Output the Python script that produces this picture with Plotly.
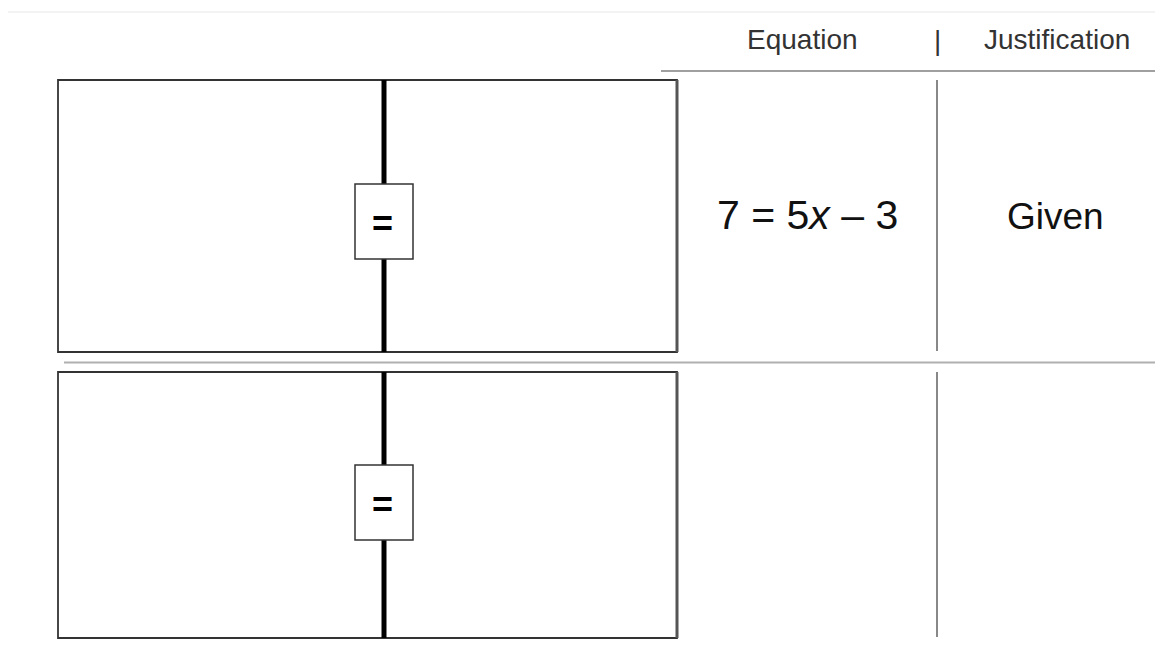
import plotly.graph_objects as go

# ------------------------------------------------------------------ #
# Content of the worksheet
# ------------------------------------------------------------------ #
headers = ['Equation', 'Justification']
equations = ['7 = 5<i>x</i> – 3', '']
justifications = ['Given', '']

W, H = 1163, 645
PAD = 8          # the page body adds an 8px margin, so axis units = page pixels
FONT = 'Liberation Sans, Arial, sans-serif'

# row extents (page pixels, y grows downward)
row_top = [80, 372]
row_bot = [352, 638]
tag_top = [184, 465]
box_left, box_right = 58, 677
mid_x = 384
eq_x, just_x, sep_x = 807, 1056, 937

fig = go.Figure()
# invisible trace so the axes exist
fig.add_trace(go.Scatter(x=[PAD, W], y=[PAD, H], mode='markers',
                         marker=dict(opacity=0), hoverinfo='skip', showlegend=False))

shapes = []
annotations = []

# faint rule at the very top
shapes.append(dict(type='line', x0=8, x1=W, y0=12, y1=12,
                   line=dict(color='#f3f3f3', width=2)))

# header
annotations.append(dict(x=802, y=39, text=headers[0], showarrow=False,
                        font=dict(family=FONT, size=28, color='#333333')))
annotations.append(dict(x=sep_x, y=40, text='|', showarrow=False,
                        font=dict(family=FONT, size=28, color='#333333')))
annotations.append(dict(x=1057, y=39, text=headers[1], showarrow=False,
                        font=dict(family=FONT, size=28, color='#333333')))
shapes.append(dict(type='line', x0=661, x1=W, y0=71, y1=71,
                   line=dict(color='#a0a0a0', width=2)))

# separator between the rows
shapes.append(dict(type='line', x0=64, x1=W, y0=362.5, y1=362.5,
                   line=dict(color='#b0b0b0', width=2)))

for i in range(len(row_top)):
    y0, y1 = row_top[i], row_bot[i]
    t0 = tag_top[i]

    # balance box
    shapes.append(dict(type='rect', x0=box_left, x1=box_right, y0=y0, y1=y1,
                       line=dict(color='#333333', width=1.8), fillcolor='white'))
    shapes.append(dict(type='line', x0=box_right, x1=box_right, y0=y0, y1=y1,
                       line=dict(color='#555555', width=3)))
    # centre post
    shapes.append(dict(type='line', x0=mid_x, x1=mid_x, y0=y0, y1=y1,
                       line=dict(color='black', width=5)))
    # equals tag
    shapes.append(dict(type='rect', x0=355, x1=413, y0=t0, y1=t0 + 75,
                       line=dict(color='#333333', width=1.5), fillcolor='white'))
    annotations.append(dict(x=mid_x - 2, y=t0 + 39, text='<b>=</b>', showarrow=False,
                            font=dict(family=FONT, size=36, color='black')))

    # column divider
    shapes.append(dict(type='line', x0=sep_x, x1=sep_x, y0=y0, y1=y1 - 1,
                       line=dict(color='#888888', width=2)))

    # equation / justification text
    if equations[i]:
        annotations.append(dict(x=eq_x, y=215, text=equations[i], showarrow=False,
                                font=dict(family=FONT, size=41, color='#111111')))
    if justifications[i]:
        annotations.append(dict(x=1055.5, y=216, text=justifications[i], showarrow=False,
                                font=dict(family=FONT, size=37, color='#111111')))

fig.update_layout(
    width=W - PAD, height=H - PAD,
    margin=dict(l=0, r=0, t=0, b=0),
    paper_bgcolor='white', plot_bgcolor='white',
    xaxis=dict(range=[PAD, W], visible=False, fixedrange=True),
    yaxis=dict(range=[H, PAD], visible=False, fixedrange=True),
    shapes=shapes,
    annotations=annotations,
    showlegend=False,
)

fig.write_html('out.html', config=dict(displayModeBar=False))
